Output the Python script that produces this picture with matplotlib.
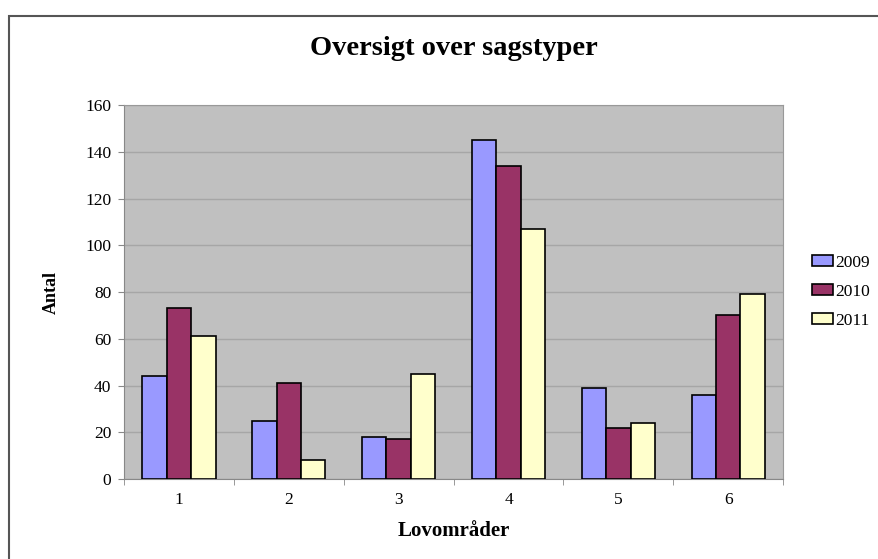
import matplotlib
matplotlib.use('Agg')
import matplotlib.pyplot as plt
from matplotlib.patches import Rectangle
import numpy as np

categories = ['1', '2', '3', '4', '5', '6']
years = ['2009', '2010', '2011']
values_2009 = [44, 25, 18, 145, 39, 36]
values_2010 = [73, 41, 17, 134, 22, 70]
values_2011 = [61, 8, 45, 107, 24, 79]
y_ticks = [0, 20, 40, 60, 80, 100, 120, 140, 160]

colors = ['#9999FF', '#993366', '#FFFFCC']
plt.rcParams['font.family'] = ['Liberation Serif', 'DejaVu Serif']

fig = plt.figure(figsize=(8.79, 5.59), dpi=100)
ax = fig.add_axes([0.141, 0.143, 0.750, 0.669])
ax.set_facecolor('#C0C0C0')

# outer chart frame
fig.patches.append(Rectangle((9 / 879, -0.05), 1.0, 1 - 16 / 559 + 0.05,
                             transform=fig.transFigure, fill=False,
                             edgecolor='#555555', linewidth=1.5))

x = np.arange(len(categories))
w = 1 / 4.5
series = [values_2009, values_2010, values_2011]
for i, (vals, yr) in enumerate(zip(series, years)):
    ax.bar(x + (i - 1) * w, vals, width=w, color=colors[i], edgecolor='black',
           linewidth=1.2, label=yr, zorder=3)

ax.set_xlim(-0.5, len(categories) - 0.5)
ax.set_ylim(0, 160)
ax.set_yticks(y_ticks)
ax.set_yticklabels([str(t) for t in y_ticks], fontsize=12.5)
ax.set_xticks(x)
ax.set_xticklabels(categories, fontsize=12.5)
ax.set_xticks(np.arange(len(categories) + 1) - 0.5, minor=True)
ax.tick_params(axis='x', which='major', length=0, pad=9)
ax.tick_params(axis='x', which='minor', length=4, color='#888888')
ax.tick_params(axis='y', length=4, color='#888888', pad=5)
ax.grid(axis='y', color='#A6A6A6', linewidth=1.0, zorder=0)

for s in ['top', 'right']:
    ax.spines[s].set_color('#999999')
for s in ['left', 'bottom']:
    ax.spines[s].set_color('#888888')

ax.set_title('Oversigt over sagstyper', fontsize=20.5, fontweight='bold', pad=36)
ax.set_xlabel('Lovområder', fontsize=15, fontweight='bold', labelpad=10)
ax.set_ylabel('Antal', fontsize=13, fontweight='bold', labelpad=18)

leg = ax.legend(loc='center left', bbox_to_anchor=(1.044, 0.5), frameon=False,
                fontsize=12.5, handlelength=1.2, handleheight=0.6,
                handletextpad=0.15, labelspacing=0.75, borderpad=0,
                borderaxespad=0)

plt.savefig('out.png', dpi=100)
